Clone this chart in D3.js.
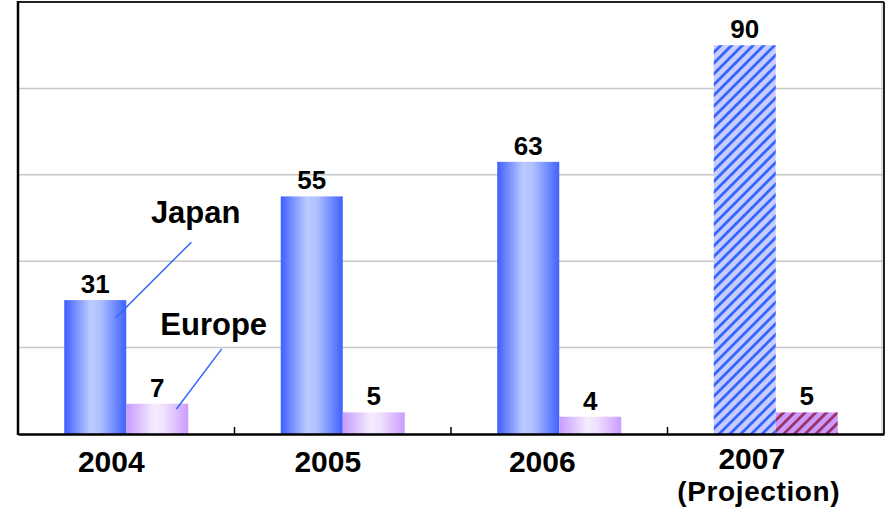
<!DOCTYPE html>
<html>
<head>
<meta charset="utf-8">
<script src="https://cdn.jsdelivr.net/npm/d3@7"></script>
<style>
  html, body { margin: 0; padding: 0; background: #fff; }
  svg { display: block; }
  text { font-family: "Liberation Sans", Arial, Helvetica, sans-serif; font-weight: bold; fill: #000; }
</style>
</head>
<body>
<svg id="chart" width="892" height="508"></svg>
<script>
// ---- data ----
const categories = ["2004", "2005", "2006", "2007"];
const categoryLines = [["2004"], ["2005"], ["2006"], ["2007", "(Projection)"]];
const series = ["Japan", "Europe"];
const japanValues = [31, 55, 63, 90];
const europeValues = [7, 5, 4, 5];
const projected = [false, false, false, true];
const gridTicks = [20, 40, 60, 80];
const yMax = 100;

const svg = d3.select("#chart");
const plot = { left: 18, right: 884, top: 2, bottom: 434 };

const x0 = d3.scaleBand().domain(categories).range([plot.left, plot.right]).padding(0);
const x1 = d3.scaleBand().domain(series).range([0, x0.bandwidth()]).paddingInner(0).paddingOuter(0.746);
const y = d3.scaleLinear().domain([0, yMax]).range([plot.bottom, plot.top]);

// ---- defs: gradients and hatch patterns ----
const defs = svg.append("defs");
function grad(id, stops) {
  const g = defs.append("linearGradient").attr("id", id).attr("x1", "0%").attr("x2", "100%").attr("y1", "0%").attr("y2", "0%");
  stops.forEach(s => g.append("stop").attr("offset", s[0]).attr("stop-color", s[1]));
}
grad("gJapan", [[0, "#3f5fff"], [0.42, "#bccbfe"], [0.58, "#b0c0fe"], [1, "#3f62ff"]]);
grad("gEurope", [[0, "#c69aff"], [0.45, "#f5ecfe"], [0.6, "#f0e2fe"], [1, "#cb9cff"]]);
function hatch(id, bg, fg) {
  const p = defs.append("pattern").attr("id", id).attr("patternUnits", "userSpaceOnUse")
    .attr("width", 7.6).attr("height", 7.6).attr("patternTransform", "rotate(45)");
  p.append("rect").attr("width", 7.6).attr("height", 7.6).attr("fill", bg);
  p.append("rect").attr("x", 0).attr("width", 2.8).attr("height", 7.6).attr("fill", fg);
}
hatch("hJapan", "#c8ccff", "#3366ff");
hatch("hEurope", "#cc99ff", "#993366");

// ---- gridlines ----
svg.append("g").selectAll("line").data(gridTicks).join("line")
  .attr("x1", plot.left).attr("x2", plot.right)
  .attr("y1", d => y(d)).attr("y2", d => y(d))
  .attr("stroke", "#c8c8c8").attr("stroke-width", 1.5);

// ---- bars ----
const rows = categories.map((c, i) => ({ cat: c, i, Japan: japanValues[i], Europe: europeValues[i], proj: projected[i] }));
const groups = svg.append("g").selectAll("g").data(rows).join("g")
  .attr("transform", d => `translate(${x0(d.cat)},0)`);
groups.selectAll("rect").data(d => series.map(s => ({ s, v: d[s], proj: d.proj })))
  .join("rect")
  .attr("x", d => x1(d.s))
  .attr("width", x1.bandwidth())
  .attr("y", d => y(d.v))
  .attr("height", d => y(0) - y(d.v))
  .attr("fill", d => d.proj ? (d.s === "Japan" ? "url(#hJapan)" : "url(#hEurope)") : (d.s === "Japan" ? "url(#gJapan)" : "url(#gEurope)"));

// value labels
groups.selectAll("text.val").data(d => series.map(s => ({ s, v: d[s] })))
  .join("text").attr("class", "val")
  .attr("x", d => x1(d.s) + x1.bandwidth() / 2)
  .attr("y", d => y(d.v) - 7)
  .attr("text-anchor", "middle")
  .attr("font-size", 26)
  .text(d => d.v);

// ---- frame ----
svg.append("line").attr("x1", plot.left).attr("x2", plot.right).attr("y1", plot.top).attr("y2", plot.top)
  .attr("stroke", "#222").attr("stroke-width", 2);
svg.append("line").attr("x1", plot.right).attr("x2", plot.right).attr("y1", plot.top).attr("y2", plot.bottom)
  .attr("stroke", "#222").attr("stroke-width", 2);
svg.append("line").attr("x1", plot.right - 2).attr("x2", plot.right - 2).attr("y1", plot.top + 1).attr("y2", plot.bottom)
  .attr("stroke", "#bbb").attr("stroke-width", 1);
svg.append("line").attr("x1", plot.left).attr("x2", plot.left).attr("y1", plot.top - 1).attr("y2", plot.bottom + 1)
  .attr("stroke", "#000").attr("stroke-width", 2.5);

// bottom axis with inner ticks
const xAxis = d3.axisBottom(x0).tickSize(0).tickFormat("");
svg.append("g").attr("transform", `translate(0,${plot.bottom})`).call(xAxis)
  .call(g => g.select(".domain").attr("stroke", "#000").attr("stroke-width", 2.5));
svg.append("g").selectAll("line").data(categories.slice(1)).join("line")
  .attr("x1", d => x0(d)).attr("x2", d => x0(d))
  .attr("y1", plot.bottom).attr("y2", plot.bottom - 7)
  .attr("stroke", "#000").attr("stroke-width", 1.5);

// category labels (first line at full size; a second line slightly smaller)
const catLabelShift = [-15, -15, -17, -17];
const labelG = svg.append("g");
categoryLines.forEach((lines, i) => {
  const cx = x0(categories[i]) + x0.bandwidth() / 2 + catLabelShift[i];
  lines.forEach((line, j) => {
    labelG.append("text")
      .attr("x", cx + (lines.length > 1 && j === 0 ? -7 : 0))
      .attr("y", plot.bottom + (lines.length > 1 ? 35 : 38) + j * 32)
      .attr("text-anchor", "middle")
      .attr("font-size", j === 0 ? 30 : 28)
      .attr("letter-spacing", j === 0 ? 0 : 0.6)
      .text(line);
  });
});

// ---- series callouts (positions relative to first-category bars) ----
const callouts = [
  { s: "Japan", label: { fx: 2.12, v: 48.8 }, from: { fx: 2.05, v: 44.4 }, to: { fx: 0.83, v: 26.9 } },
  { s: "Europe", label: { fx: 1.41, v: 22.9 }, from: { fx: 1.54, v: 19.7 }, to: { fx: 0.81, v: 5.8 } }
];
const bx = s => x0(categories[0]) + x1(s);
const bw = x1.bandwidth();
callouts.forEach(c => {
  svg.append("line")
    .attr("x1", bx(c.s) + c.from.fx * bw).attr("y1", y(c.from.v))
    .attr("x2", bx(c.s) + c.to.fx * bw).attr("y2", y(c.to.v))
    .attr("stroke", "#3366ff").attr("stroke-width", 1.5);
  svg.append("text")
    .attr("x", bx(c.s) + c.label.fx * bw).attr("y", y(c.label.v))
    .attr("text-anchor", "middle").attr("font-size", 31)
    .text(c.s);
});
</script>
</body>
</html>
